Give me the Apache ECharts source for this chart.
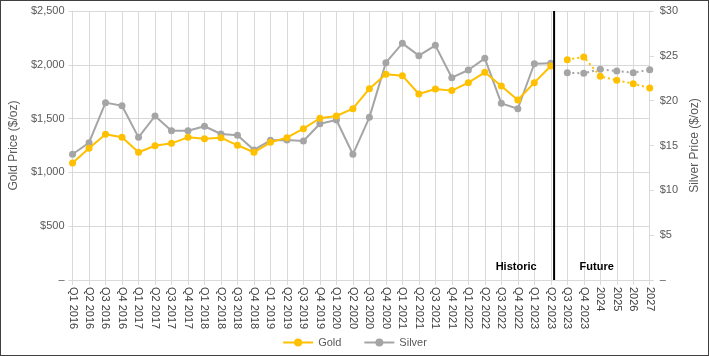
<!DOCTYPE html>
<html>
<head>
<meta charset="utf-8">
<script src="https://cdn.jsdelivr.net/npm/echarts@6/dist/echarts.min.js"></script>
<style>
html,body{margin:0;padding:0;background:#fff;}
#frame{position:absolute;left:0;top:0;width:709px;height:356px;box-sizing:border-box;border:1px solid #404040;}
#chart{position:absolute;left:0;top:0;width:709px;height:356px;}
</style>
</head>
<body>
<div id="chart"></div>
<div id="frame"></div>
<script>
const categories = ['Q1 2016','Q2 2016','Q3 2016','Q4 2016','Q1 2017','Q2 2017','Q3 2017','Q4 2017',
  'Q1 2018','Q2 2018','Q3 2018','Q4 2018','Q1 2019','Q2 2019','Q3 2019','Q4 2019',
  'Q1 2020','Q2 2020','Q3 2020','Q4 2020','Q1 2021','Q2 2021','Q3 2021','Q4 2021',
  'Q1 2022','Q2 2022','Q3 2022','Q4 2022','Q1 2023','Q2 2023','Q3 2023','Q4 2023',
  '2024','2025','2026','2027'];
// Historic (Q1 2016 - Q2 2023), then forecast (Q3 2023 - 2027)
const goldHistoric = [1087,1225,1354,1326,1187,1248,1270,1326,1312,1323,1252,1187,1280,1323,1406,1503,
  1524,1592,1778,1912,1899,1729,1775,1760,1834,1930,1803,1673,1834,1989];
const goldFuture = [2048,2073,1893,1856,1825,1784];
const silverHistoric = [14.02,15.31,19.78,19.44,15.91,18.29,16.65,16.65,17.15,16.28,16.13,14.50,15.58,15.61,15.50,17.43,
  17.85,14.02,18.14,24.24,26.39,25.02,26.17,22.56,23.42,24.72,19.70,19.10,24.12,24.16];
const silverFuture = [23.12,23.05,23.50,23.31,23.12,23.45];
const goldTicks = [0,500,1000,1500,2000,2500];
const silverTicks = [0,5,10,15,20,25,30];
const dividerPosition = 29.2; // between Q2 2023 and Q3 2023
const periodLabels = ['Historic','Future'];

const nHist = goldHistoric.length;
const pad = (arr, before, total) => {
  const out = [];
  for (let i = 0; i < total; i++) out.push(i >= before && i - before < arr.length ? arr[i - before] : null);
  return out;
};
const N = categories.length;
const GOLD = '#FFC000', SILVER = '#A5A5A5';
const textColor = '#595959';
const fontFamily = 'Liberation Sans, Arial, sans-serif';

const chart = echarts.init(document.getElementById('chart'), null, {renderer:'canvas'});
chart.setOption({
  animation: false,
  textStyle: {fontFamily},
  grid: {left: 66, right: 55, top: 11, bottom: 76, containLabel: false},
  legend: {
    bottom: 3, left: 'center', itemGap: 22, itemWidth: 30, itemHeight: 10,
    textStyle: {color: textColor, fontSize: 11, fontFamily},
    data: ['Gold','Silver']
  },
  xAxis: [{
    type: 'category', data: categories, boundaryGap: false,
    axisLine: {lineStyle: {color: '#D9D9D9'}},
    axisTick: {show: true, length: 5, lineStyle: {color: '#D9D9D9'}},
    splitLine: {show: true, lineStyle: {color: '#D9D9D9', width: 1}},
    axisLabel: {rotate: -90, color: '#404040', fontSize: 11, margin: 7, interval: 0, fontFamily}
  }, {
    type: 'value', min: 0, max: N - 1, show: false
  }],
  yAxis: [{
    type: 'value', min: 0, max: 2500, interval: 500,
    name: 'Gold Price ($/oz)', nameLocation: 'middle', nameGap: 49, nameRotate: 90,
    nameTextStyle: {color: textColor, fontSize: 12, fontFamily},
    axisLine: {show: true, lineStyle: {color: '#D9D9D9'}},
    axisTick: {show: true, inside: false, length: 4, lineStyle: {color: '#D9D9D9'}},
    splitLine: {show: true, lineStyle: {color: '#D9D9D9', width: 1}},
    axisLabel: {color: textColor, fontSize: 11, margin: 8, fontFamily,
      formatter: v => v === 0 ? '–' : '$' + v.toLocaleString('en-US')}
  }, {
    type: 'value', min: 0, max: 30, interval: 5, position: 'right',
    name: 'Silver Price ($/oz)', nameLocation: 'middle', nameGap: 38, nameRotate: 90,
    nameTextStyle: {color: textColor, fontSize: 12, fontFamily},
    axisLine: {show: true, lineStyle: {color: '#D9D9D9'}},
    axisTick: {show: true, length: 4, lineStyle: {color: '#D9D9D9'}},
    splitLine: {show: false},
    axisLabel: {color: textColor, fontSize: 11, margin: 10, fontFamily,
      formatter: v => v === 0 ? '–' : '$' + v}
  }],
  series: [
    {name: 'Gold', type: 'line', yAxisIndex: 0, data: pad(goldHistoric, 0, N),
     symbol: 'circle', symbolSize: 7, itemStyle: {color: GOLD}, lineStyle: {color: GOLD, width: 2}, z: 4},
    {name: 'Silver', type: 'line', yAxisIndex: 1, data: pad(silverHistoric, 0, N),
     symbol: 'circle', symbolSize: 7, itemStyle: {color: SILVER}, lineStyle: {color: SILVER, width: 2}, z: 3},
    {name: 'Gold', type: 'line', yAxisIndex: 0, data: pad(goldFuture, nHist, N),
     symbol: 'circle', symbolSize: 7, itemStyle: {color: GOLD}, lineStyle: {color: GOLD, width: 2, type: [2,3]}, z: 4},
    {name: 'Silver', type: 'line', yAxisIndex: 1, data: pad(silverFuture, nHist, N),
     symbol: 'circle', symbolSize: 7, itemStyle: {color: SILVER}, lineStyle: {color: SILVER, width: 2, type: [2,3]}, z: 3},
    {name: 'divider', type: 'line', xAxisIndex: 1, yAxisIndex: 0, silent: true,
     symbol: 'circle', symbolSize: 1, showSymbol: true, itemStyle: {color: 'rgba(0,0,0,0)'},
     lineStyle: {color: '#000', width: 2}, z: 5,
     data: [
       {value: [dividerPosition, 2500]},
       {value: [dividerPosition, 0],
        label: {show: true, formatter: periodLabels[0], position: 'left', distance: 17, offset: [0, -13],
                fontWeight: 'bold', fontSize: 11, color: '#000', fontFamily}},
       {value: [dividerPosition, 0],
        label: {show: true, formatter: periodLabels[1], position: 'right', distance: 25, offset: [0, -13],
                fontWeight: 'bold', fontSize: 11, color: '#000', fontFamily}}
     ]}
  ]
});
</script>
</body>
</html>
